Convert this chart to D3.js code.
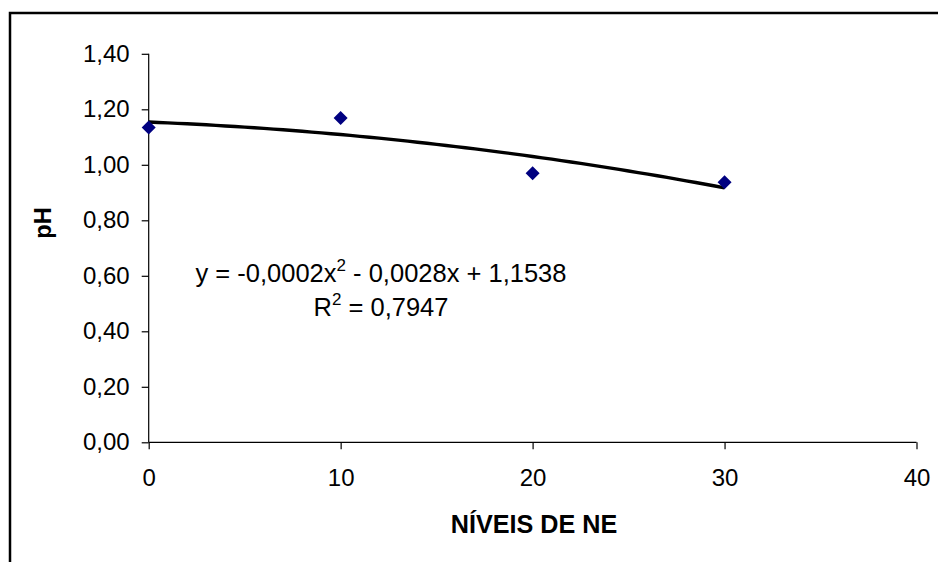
<!DOCTYPE html>
<html>
<head>
<meta charset="utf-8">
<script src="https://cdn.jsdelivr.net/npm/d3@7"></script>
<style>
  html, body { margin: 0; padding: 0; background: #fff; }
  svg { display: block; }
  text { font-family: "Liberation Sans", Arial, sans-serif; fill: #000; }
</style>
</head>
<body>
<svg id="chart" width="938" height="562"></svg>
<script>
// ---- data ----
const niveis = [0, 10, 20, 30];
const phValues = [1.134, 1.169, 0.970, 0.937];
const xTicks = [0, 10, 20, 30, 40];
const yTicks = [0, 0.2, 0.4, 0.6, 0.8, 1.0, 1.2, 1.4];
const xTitle = "NÍVEIS DE NE";
const yTitle = "pH";
const eqLine1 = ["y = -0,0002x", "2", " - 0,0028x + 1,1538"];
const eqLine2 = ["R", "2", " = 0,7947"];

const svg = d3.select("#chart");
const W = 938, H = 562;

// outer border (extends beyond the right/bottom edges)
svg.append("rect")
  .attr("x", 10).attr("y", 13)
  .attr("width", W).attr("height", H)
  .attr("fill", "none").attr("stroke", "#000").attr("stroke-width", 2.5);

const x = d3.scaleLinear().domain([0, 40]).range([148.7, 916.5]);
const y = d3.scaleLinear().domain([0, 1.4]).range([442.3, 53.8]);

const fmt = d => d3.format(".2f")(d).replace(".", ",");

// y axis
const yAxis = svg.append("g")
  .attr("transform", `translate(${x(0)},0)`)
  .call(d3.axisLeft(y).tickValues(yTicks).tickFormat(fmt).tickSize(7).tickPadding(12));
// x axis
const xAxis = svg.append("g")
  .attr("transform", `translate(0,${y(0)})`)
  .call(d3.axisBottom(x).tickValues(xTicks).tickFormat(d3.format("d")).tickSize(7).tickPadding(20));

[yAxis, xAxis].forEach(g => {
  g.select(".domain").attr("stroke", "#000").attr("stroke-width", 1.2);
  g.selectAll(".tick line").attr("stroke", "#000").attr("stroke-width", 1.2);
  g.selectAll(".tick text")
    .attr("font-family", '"Liberation Sans", Arial, sans-serif')
    .attr("font-size", 24).attr("fill", "#000");
});
yAxis.select(".domain").attr("d", `M0,${y(1.4)}V${y(0)}`);
xAxis.select(".domain").attr("d", `M${x(0)},0H${x(40)}`);

// least-squares quadratic trend line (from the data)
function quadFit(xs, ys) {
  const n = xs.length;
  let s = [0,0,0,0,0], t = [0,0,0];
  for (let i = 0; i < n; i++) {
    const xi = xs[i], yi = ys[i];
    for (let k = 0; k < 5; k++) s[k] += Math.pow(xi, k);
    for (let k = 0; k < 3; k++) t[k] += Math.pow(xi, k) * yi;
  }
  const M = [[s[0], s[1], s[2], t[0]], [s[1], s[2], s[3], t[1]], [s[2], s[3], s[4], t[2]]];
  for (let i = 0; i < 3; i++) {
    let p = i;
    for (let r = i + 1; r < 3; r++) if (Math.abs(M[r][i]) > Math.abs(M[p][i])) p = r;
    [M[i], M[p]] = [M[p], M[i]];
    for (let r = 0; r < 3; r++) if (r !== i) {
      const f = M[r][i] / M[i][i];
      for (let c = i; c < 4; c++) M[r][c] -= f * M[i][c];
    }
  }
  return [M[0][3] / M[0][0], M[1][3] / M[1][1], M[2][3] / M[2][2]];
}
const [c0, c1, c2] = quadFit(niveis, phValues);
const trendPts = d3.range(0, 30.0001, 0.5).map(v => [v, c0 + c1 * v + c2 * v * v]);
svg.append("path")
  .datum(trendPts)
  .attr("fill", "none").attr("stroke", "#000").attr("stroke-width", 3.4)
  .attr("stroke-linejoin", "round")
  .attr("d", d3.line().x(d => x(d[0])).y(d => y(d[1])));

// markers (diamonds)
svg.append("g").selectAll("path")
  .data(niveis.map((v, i) => [v, phValues[i]]))
  .join("path")
  .attr("transform", d => `translate(${x(d[0])},${y(d[1])})`)
  .attr("d", "M0,-7L7,0L0,7L-7,0Z")
  .attr("fill", "#000080");

// axis titles
svg.append("text")
  .attr("x", 534).attr("y", 533)
  .attr("text-anchor", "middle")
  .attr("font-size", 25.2).attr("font-weight", "bold")
  .text(xTitle);
svg.append("text")
  .attr("transform", "translate(51,223) rotate(-90)")
  .attr("text-anchor", "middle")
  .attr("font-size", 23.5).attr("font-weight", "bold")
  .text(yTitle);

// equation text
function eq(parts, yy) {
  const t = svg.append("text")
    .attr("x", 381).attr("y", yy)
    .attr("text-anchor", "middle")
    .attr("font-size", 25.5);
  t.append("tspan").text(parts[0]);
  t.append("tspan").attr("font-size", 17).attr("dy", -11).text(parts[1]);
  t.append("tspan").attr("dy", 11).text(parts[2]);
}
eq(eqLine1, 282);
eq(eqLine2, 316);
</script>
</body>
</html>
